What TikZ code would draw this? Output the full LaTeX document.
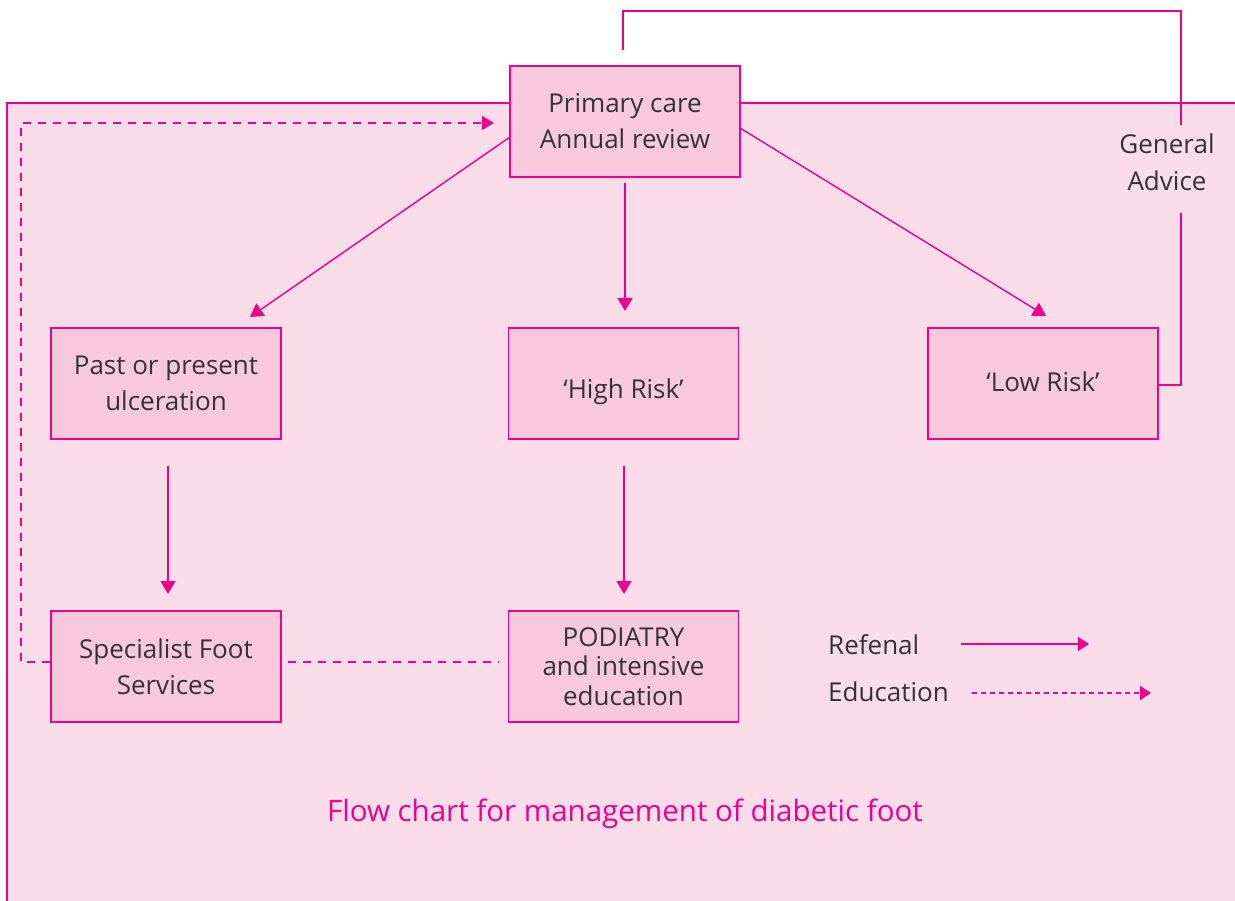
\documentclass[tikz,border=0pt]{standalone}
\usepackage{fontspec}
\setmainfont{Open Sans}
\usetikzlibrary{arrows.meta}
\definecolor{mag}{HTML}{EC008C}
\definecolor{panelpink}{HTML}{FBDDE9}
\definecolor{boxpink}{HTML}{F8C9DD}
\definecolor{txt}{HTML}{333333}
\tikzset{
  box/.style={draw=mag, line width=1.4pt, fill=boxpink, minimum width=230pt, minimum height=111pt, inner sep=0pt, align=center, text=txt, font=\fontsize{26}{36}\selectfont},
  lbl/.style={text=txt, align=center, font=\fontsize{26}{37}\selectfont, inner sep=0pt},
  conn/.style={draw=mag, line width=1.4pt},
  arr/.style={conn, -{Triangle[length=13pt,width=15pt]}},
  edu/.style={conn, dash pattern=on 8pt off 7pt},
  eduarr/.style={edu, -{Triangle[length=12pt,width=14pt]}}
}
\begin{document}
\begin{tikzpicture}[x=1pt,y=-1pt]
\useasboundingbox (0,0) rectangle (1235,901);
\fill[panelpink] (7,103) rectangle (1235,901);
\draw[mag, line width=1.6pt] (7,901) -- (7,103) -- (1235,103);

\node[box] (pc) at (625,121.5) {Primary care\\Annual review};
\node[box] (past) at (166,383.5) {Past or present\\ulceration};
\node[box] (high) at (623.5,383.5) {\raisebox{-8pt}[\height][\depth]{‘High Risk’}};
\node[box] (low) at (1043,383.5) {\raisebox{2pt}[\height][\depth]{‘Low Risk’}};
\node[box] (spec) at (166,666.5) {Specialist Foot\\Services};
\node[box, font=\fontsize{26}{29.5}\selectfont] (pod) at (623.5,666.5) {PODIATRY\\and intensive\\education};

\node[lbl] (ga) at (1167,162) {General\\Advice};

% referral arrows
\coordinate (pcL) at (510,137);
\coordinate (pastT) at (250,317);
\draw[arr] (pcL) -- (pastT);
\coordinate (pcB) at (625,183);
\coordinate (highT) at (625,311);
\draw[arr] (pcB) -- (highT);
\coordinate (pcR) at (740,128);
\coordinate (lowT) at (1046,316);
\draw[arr] (pcR) -- (lowT);
\coordinate (pastB) at (168,466);
\coordinate (specT) at (168,594);
\draw[arr] (pastB) -- (specT);
\coordinate (highB) at (624,466);
\coordinate (podT) at (624,594);
\draw[arr] (highB) -- (podT);

% general advice loop
\coordinate (gaTop) at (623,50);
\draw[conn] (gaTop) -- (623,11) -- (1181,11) -- (1181,125);
\draw[conn] (1181,213) -- (1181,385) -- (low.east |- 0,385);

% education
\coordinate (eduEnd) at (494,123);
\draw[eduarr] (spec.west |- 0,662) -- (21,662) -- (21,123) -- (eduEnd);
\coordinate (podW) at (498,662);
\draw[edu] (spec.east |- 0,662) ++(6,0) -- (podW);

% legend
\node[lbl, anchor=west] (lref) at (828,645) {Refenal};
\node[lbl, anchor=west] (ledu) at (828,692) {Education};
\coordinate (lr1) at (961,644);
\coordinate (lr2) at (1089,644);
\draw[conn, -{Triangle[length=11pt,width=14pt]}] (lr1) -- (lr2);
\coordinate (le1) at (972,693);
\coordinate (le2) at (1151,693);
\draw[conn, dash pattern=on 5pt off 4pt, -{Triangle[length=11pt,width=14pt]}] (le1) -- (le2);

\node[lbl, text=mag, font=\fontsize{29.5}{36}\selectfont] (cap) at (625,814) {Flow chart for management of diabetic foot};
\end{tikzpicture}
\end{document}
